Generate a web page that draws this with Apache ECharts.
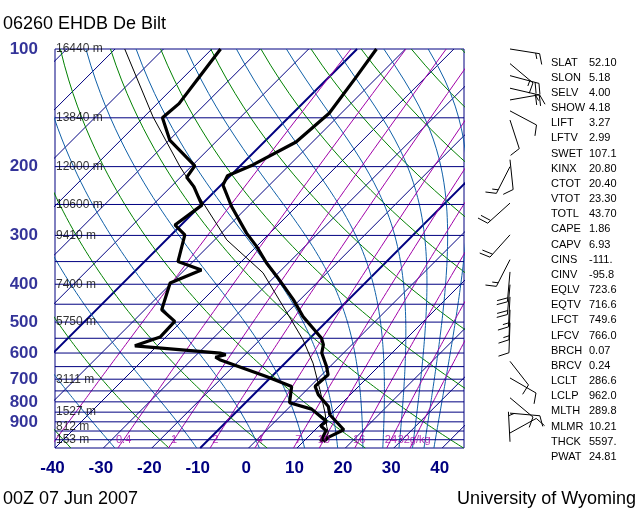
<!DOCTYPE html>
<html><head><meta charset="utf-8">
<script src="https://cdn.jsdelivr.net/npm/echarts@6/dist/echarts.min.js"></script>
<style>html,body{margin:0;padding:0;background:#fff}#c{width:640px;height:512px}</style>
</head><body><div id="c"></div>
<script>
// ---------------- data ----------------
const tempP = [1012, 985, 943, 863, 822, 767, 730, 682, 650, 600, 571, 550, 513, 484, 438, 382, 353, 320, 296, 253, 223, 211, 198, 173, 146, 118, 100];
const tempT = [14.2, 14.3, 15.9, 9.9, 7.9, 3.4, 1.0, 1.3, -0.7, -4.5, -5.9, -7.6, -12.1, -15.9, -21.4, -29.6, -34.5, -40.0, -44.8, -53.4, -59.6, -60.6, -57.6, -53.4, -52.5, -54.4, -56.0];

const dewP = [1012, 948, 921, 898, 835, 804, 731, 689, 624, 615, 606, 600, 575, 546, 498, 465, 397, 368, 350, 299, 282, 251, 225, 213, 199, 171, 150, 145, 138, 118, 100];
const dewT = [13.6, 12.4, 10.3, 10.6, 5.0, -0.9, -3.8, -11.1, -24.2, -25.6, -24.0, -25.5, -44.6, -41.2, -41.4, -46.5, -50.3, -46.5, -53.1, -57.2, -61.3, -59.8, -65.3, -68.7, -69.4, -79.9, -86.0, -85.8, -85.5, -86.8, -88.2];

const parcelP = [1012, 962, 925, 855, 745, 637, 555, 502, 374, 308, 200, 149, 100];
const parcelT = [14.3, 13.4, 11.7, 8.6, 2.7, -4.2, -11.1, -16.7, -33.2, -47.5, -72.3, -88.2, -108.0];

const windP   = [100, 109, 117, 126, 135, 144, 152, 192, 200, 248, 299, 346, 372, 401, 431, 465, 502, 630, 695, 781, 855, 961, 1012];
const windDir = [99, 130, 105, 103, 80, 118, 162, 174, 207, 228, 222, 207, 185, 185, 183, 182, 182, 142, 120, 130, 95, 61, 357];
const windSpd = [15, 15, 20, 20, 15, 10, 10, 10, 15, 20, 20, 15, 20, 20, 15, 15, 10, 10, 10, 10, 10, 10, 5];

const heightP = [100, 150, 200, 250, 300, 400, 500, 700, 850, 925, 1000];
const heightM = ['16440', '13840', '12000', '10600', '9410', '7400', '5750', '3111', '1527', '812', '153'];

const pressureTicks = [100, 200, 300, 400, 500, 600, 700, 800, 900];
const isobarP = [150, 200, 250, 300, 350, 400, 450, 500, 550, 600, 650, 700, 750, 800, 850, 900, 950, 1000];
const isothermT = [-120, -110, -100, -90, -80, -70, -60, -50, -40, -30, -20, -10, 0, 10, 20, 30, 40];
const thickIsothermT = [-60, -10];
const dryThetaC = [-40, -20, 0, 20, 40, 60, 80, 100, 120, 140, 160, 180];
const moistThetaEC = [-30, -10, 10, 30, 50, 70, 90, 110, 130, 150, 170];
const mixRatios = [0.1, 0.4, 1, 2, 4, 7, 10, 16, 24, 32];
const mixLabelValues = [0.4, 1, 2, 4, 7, 10, 16, 24, 32];
const mixLabelText = ['0.4', '1', '2', '4', '7', '10', '16', '24', '32g/kg'];

const paramNames = ['SLAT','SLON','SELV','SHOW','LIFT','LFTV','SWET','KINX','CTOT','VTOT','TOTL','CAPE','CAPV','CINS','CINV','EQLV','EQTV','LFCT','LFCV','BRCH','BRCV','LCLT','LCLP','MLTH','MLMR','THCK','PWAT'];
const paramValues = ['52.10','5.18','4.00','4.18','3.27','2.99','107.1','20.80','20.40','23.30','43.70','1.86','6.93','-111.','-95.8','723.6','716.6','749.6','766.0','0.07','0.24','286.6','962.0','289.8','10.21','5597.','24.81'];

// ---------------- diagram helpers ----------------
const NAVY = '#000080', GREEN = '#008000', MOIST = '#1060a8', PURPLE = '#a000a8';
const FONT = '"Liberation Sans", Arial, sans-serif';
const PBOT = 1050, PTOP = 100, SKEW = 80.7;
const sx = (T, p) => T + SKEW * Math.log10(PBOT / p);
const curveP = [];
for (let p = PBOT; p >= PTOP; p -= 10) curveP.push(p);

const esat = T => 6.112 * Math.exp(17.67 * T / (T + 243.5));
const tdFromE = e => { const l = Math.log(e / 6.112); return 243.5 * l / (17.67 - l); };
const tdFromMix = (r, p) => tdFromE(r * p / (622 + r));
function thetaE(Tc, p) {
  const TK = Tc + 273.15, es = esat(Tc);
  if (es >= 0.8 * p) return Infinity;
  const r = 0.622 * es / (p - es);
  return TK * Math.pow(1000 / p, 0.2854 * (1 - 0.28 * r)) * Math.exp((3.376 / TK - 0.00254) * r * 1000 * (1 + 0.81 * r));
}
function moistT(thE, p) {
  let lo = -160, hi = 80;
  for (let i = 0; i < 60; i++) {
    const m = (lo + hi) / 2;
    if (thetaE(m, p) > thE) hi = m; else lo = m;
  }
  return (lo + hi) / 2;
}

function line(data, color, width, z) {
  return { type: 'line', xAxisIndex: 0, yAxisIndex: 0, data, symbol: 'none', showSymbol: false,
    silent: true, animation: false, clip: true, z: z || 2, lineStyle: { color, width } };
}

const series = [];
isothermT.forEach(T => series.push(line([[sx(T, PBOT), PBOT], [sx(T, PTOP), PTOP]], NAVY, thickIsothermT.includes(T) ? 2 : 1)));
dryThetaC.forEach(th => series.push(line(curveP.map(p => [sx((th + 273.15) * Math.pow(p / 1000, 0.2857) - 273.15, p), p]), GREEN, 1)));
moistThetaEC.forEach(th => series.push(line(curveP.map(p => [sx(moistT(th + 273.15, p), p), p]), MOIST, 1)));
mixRatios.forEach(r => series.push(line(curveP.map(p => [sx(tdFromMix(r, p), p), p]), PURPLE, 1)));
isobarP.forEach(p => series.push(line([[-40, p], [44.5, p]], NAVY, 1)));

series.push(line(parcelP.map((p, i) => [sx(parcelT[i], p), p]), '#000', 1, 5));
series.push(line(tempP.map((p, i) => [sx(tempT[i], p), p]), '#000', 3.2, 6));
series.push(line(dewP.map((p, i) => [sx(dewT[i], p), p]), '#000', 3.2, 6));

function labelScatter(data, label) {
  return { type: 'scatter', xAxisIndex: 0, yAxisIndex: 0, data, symbolSize: 0, silent: true, animation: false, z: 8,
    itemStyle: { color: 'rgba(0,0,0,0)' }, label: Object.assign({ show: true, fontFamily: FONT }, label) };
}
series.push(labelScatter(pressureTicks.map(p => [-40, p]), {
  position: 'left', distance: 17, fontSize: 17, fontWeight: 'bold', color: NAVY,
  formatter: pr => String(pressureTicks[pr.dataIndex]) }));
series.push(labelScatter(heightP.map(p => [-40, p]), {
  position: 'right', distance: 1, fontSize: 12, color: '#000',
  formatter: pr => heightM[pr.dataIndex] + ' m' }));
series.push(labelScatter(mixLabelValues.map(r => [sx(tdFromMix(r, 1000), 1000), 1000]), {
  position: 'inside', fontSize: 11, color: PURPLE,
  formatter: pr => mixLabelText[pr.dataIndex] }));

// wind barbs
series.push({
  type: 'custom', xAxisIndex: 1, yAxisIndex: 1, clip: false, silent: true, animation: false, z: 8,
  data: windP.map((p, i) => [0, p, windDir[i], windSpd[i]]),
  renderItem: function (params, api) {
    const base = api.coord([0, api.value(1)]);
    const a = api.value(2) * Math.PI / 180, spd = api.value(3);
    const L = 30, dx = Math.sin(a), dy = -Math.cos(a);
    const tip = [base[0] + dx * L, base[1] + dy * L];
    const fa = 70 * Math.PI / 180;
    const fx = dx * Math.cos(fa) - dy * Math.sin(fa), fy = dx * Math.sin(fa) + dy * Math.cos(fa);
    const st = { stroke: '#000', lineWidth: 1 };
    const kids = [{ type: 'line', shape: { x1: base[0], y1: base[1], x2: tip[0], y2: tip[1] }, style: st }];
    let rem = Math.round(spd / 5) * 5, pos = 0;
    while (rem >= 10) {
      const s = [tip[0] - dx * pos * 4, tip[1] - dy * pos * 4];
      kids.push({ type: 'line', shape: { x1: s[0], y1: s[1], x2: s[0] + fx * 11, y2: s[1] + fy * 11 }, style: st });
      pos++; rem -= 10;
    }
    if (rem >= 5) {
      if (pos === 0) pos = 1;
      const s = [tip[0] - dx * pos * 4, tip[1] - dy * pos * 4];
      kids.push({ type: 'line', shape: { x1: s[0], y1: s[1], x2: s[0] + fx * 6, y2: s[1] + fy * 6 }, style: st });
    }
    return { type: 'group', children: kids };
  }
});

const graphic = [
  { type: 'text', x: 3, y: 24.5, style: { text: '06260 EHDB De Bilt', fontSize: 18, fontFamily: FONT, fill: '#000', verticalAlign: 'middle' } },
  { type: 'text', x: 3, y: 499.5, style: { text: '00Z 07 Jun 2007', fontSize: 18, fontFamily: FONT, fill: '#000', verticalAlign: 'middle' } },
  { type: 'text', x: 636, y: 499.5, style: { text: 'University of Wyoming', fontSize: 18, fontFamily: FONT, fill: '#000', align: 'right', verticalAlign: 'middle' } }
];
paramNames.forEach((n, i) => {
  const y = 62.5 + 15.17 * i;
  graphic.push({ type: 'text', x: 551, y, style: { text: n, fontSize: 11, fontFamily: FONT, fill: '#000', verticalAlign: 'middle' } });
  graphic.push({ type: 'text', x: 589, y, style: { text: paramValues[i], fontSize: 11, fontFamily: FONT, fill: '#000', verticalAlign: 'middle' } });
});

const chart = echarts.init(document.getElementById('c'), null, { renderer: 'canvas' });
chart.setOption({
  animation: false,
  backgroundColor: '#fff',
  grid: [
    { left: 55, top: 49, width: 409, height: 399, show: true, borderColor: NAVY, borderWidth: 1, backgroundColor: 'transparent' },
    { left: 495, top: 49, width: 30, height: 399, show: false }
  ],
  xAxis: [
    { gridIndex: 0, type: 'value', min: -40, max: 44.5, interval: 10,
      axisLine: { show: false }, axisTick: { show: false }, splitLine: { show: false },
      axisLabel: { fontSize: 17, fontWeight: 'bold', color: NAVY, fontFamily: FONT, margin: 12, padding: [0, 5, 0, 0],
        formatter: v => (Math.abs(v % 10) < 1e-9 ? String(v) : '') } },
    { gridIndex: 1, type: 'value', min: -1, max: 1, show: false }
  ],
  yAxis: [
    { gridIndex: 0, type: 'log', logBase: 10, min: PTOP, max: PBOT, inverse: true,
      axisLine: { show: false }, axisTick: { show: false }, splitLine: { show: false }, axisLabel: { show: false } },
    { gridIndex: 1, type: 'log', logBase: 10, min: PTOP, max: PBOT, inverse: true, show: false }
  ],
  graphic,
  series
});
</script></body></html>
